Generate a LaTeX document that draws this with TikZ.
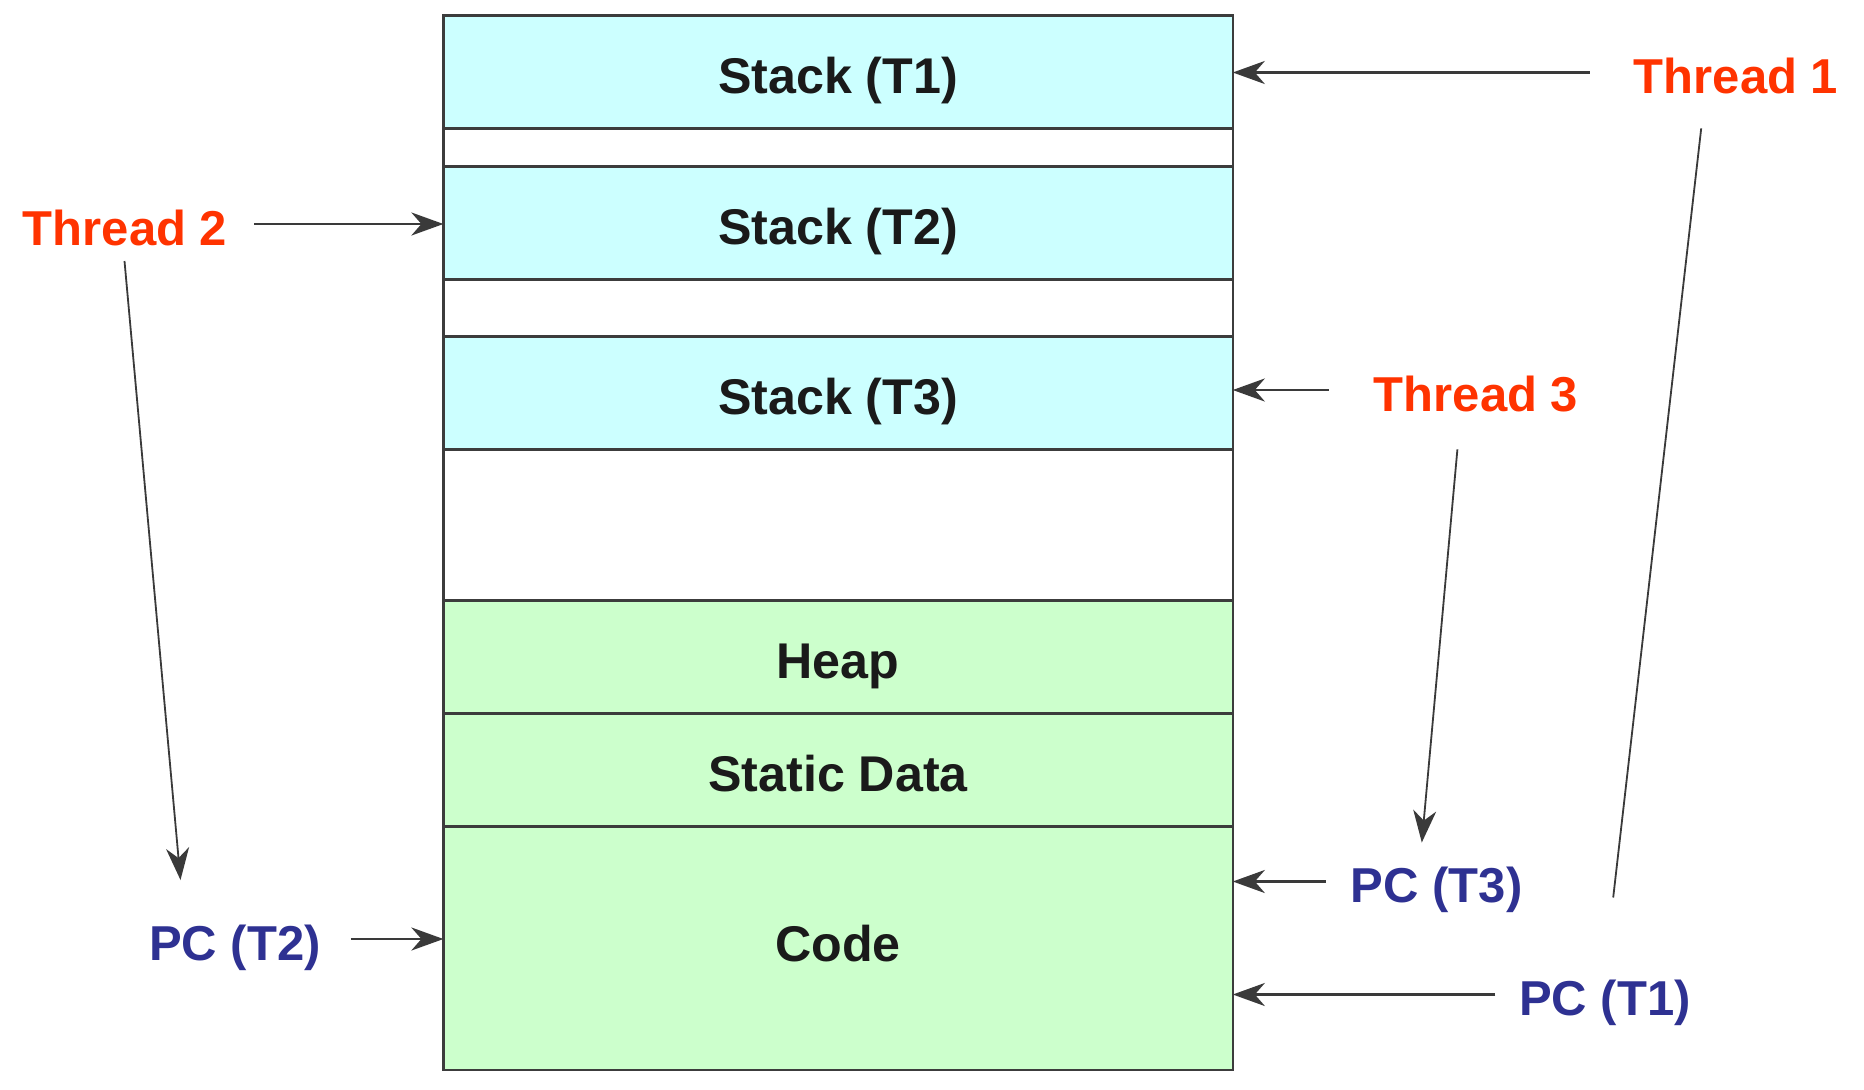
\documentclass[tikz,border=0pt]{standalone}
\usepackage{fontspec}
\setmainfont{Liberation Sans}
\usetikzlibrary{arrows.meta}
\definecolor{stackfill}{HTML}{CCFFFF}
\definecolor{datafill}{HTML}{CCFFCC}
\definecolor{edge}{HTML}{3C3C3C}
\definecolor{arrowgray}{HTML}{3A3A3A}
\definecolor{threadred}{HTML}{FF3300}
\definecolor{pcblue}{HTML}{2E3192}
\definecolor{ink}{HTML}{1A1A1A}
\begin{document}
\begin{tikzpicture}[x=1pt,y=-1pt,
  bigtext/.style={font=\fontsize{49}{58}\selectfont\bfseries},
  segtext/.style={font=\fontsize{50.2}{60}\selectfont\bfseries},
  seg/.style={segtext, draw=edge, line width=2.6pt, minimum width=789.4pt,
    inner sep=0pt, outer sep=0pt, anchor=north west, text=ink,
    text height=43.5pt, text depth=0pt},
  gapseg/.style={seg, fill=white},
  stackseg/.style={seg, fill=stackfill},
  dataseg/.style={seg, fill=datafill},
  lbl/.style={bigtext, inner sep=0pt, outer sep=0pt, text height=35pt, text depth=0pt},
  thr/.style={lbl, text=threadred},
  pc/.style={lbl, text=pcblue},
  tip/.style={-{Stealth[length=32pt,width=23pt,inset=10pt]}},
  arr/.style={draw=arrowgray, line width=2.8pt, tip, transform canvas={yshift=3.5pt}},
  diag/.style={draw=arrowgray, line width=1.8pt}]

\useasboundingbox (0,0) rectangle (1864,1090);
\fill[white] (0,0) rectangle (1864,1090);

% memory layout, top to bottom
\node[stackseg, minimum height=112.9pt] (st1)  at (443.4,15.5)  {Stack (T1)};
\node[gapseg,   minimum height=38pt]    (gap1) at (443.4,128.4) {};
\node[stackseg, minimum height=113pt]   (st2)  at (443.4,166.4) {Stack (T2)};
\node[gapseg,   minimum height=57pt]    (gap2) at (443.4,279.4) {};
\node[stackseg, minimum height=113pt]   (st3)  at (443.4,336.4) {Stack (T3)};
\node[gapseg,   minimum height=150.9pt] (free) at (443.4,449.4) {};
\node[dataseg,  minimum height=113pt]   (heap) at (443.4,600.3) {Heap};
\node[dataseg,  minimum height=112.9pt] (stat) at (443.4,713.3) {Static Data};
\node[dataseg,  minimum height=243.7pt, text height=26.5pt] (code) at (443.4,826.2) {Code};

% thread and program counter labels
\node[thr] (thr1) at (1736,76)    {Thread 1};
\node[thr] (thr2) at (125,227.5)  {Thread 2};
\node[thr] (thr3) at (1476,393.5) {Thread 3};
\node[pc]  (pc2)  at (235,942.5)  {PC (T2)};
\node[pc]  (pc3)  at (1436.7,885) {PC (T3)};
\node[pc]  (pc1)  at (1605,998)   {PC (T1)};

% stack pointers
\draw[arr, shorten <=44pt] (thr1.west) -- (thr1.west -| st1.east);
\draw[arr, shorten <=27pt] (thr2.east) -- (thr2.east -| st2.west);
\draw[arr, shorten <=45pt] (thr3.west) -- (thr3.west -| st3.east);

% program counters into the code segment
\draw[arr, shorten <=25pt] (pc3.west) -- (pc3.west -| code.east);
\draw[arr, shorten <=24pt] (pc1.west) -- (pc1.west -| code.east);
\draw[arr, shorten <=30pt] (pc2.east) -- (pc2.east -| code.west);

% each thread owns its program counter
\coordinate (d2a) at (124.5,261);   \coordinate (d2b) at (180.5,880);
\coordinate (d3a) at (1457.4,449.4); \coordinate (d3b) at (1421.8,842.5);
\coordinate (d1a) at (1701.2,128.4); \coordinate (d1b) at (1613.2,897.5);
\draw[diag, tip] (d2a) -- (d2b);
\draw[diag, tip] (d3a) -- (d3b);
\draw[diag] (d1a) -- (d1b);
\end{tikzpicture}
\end{document}
